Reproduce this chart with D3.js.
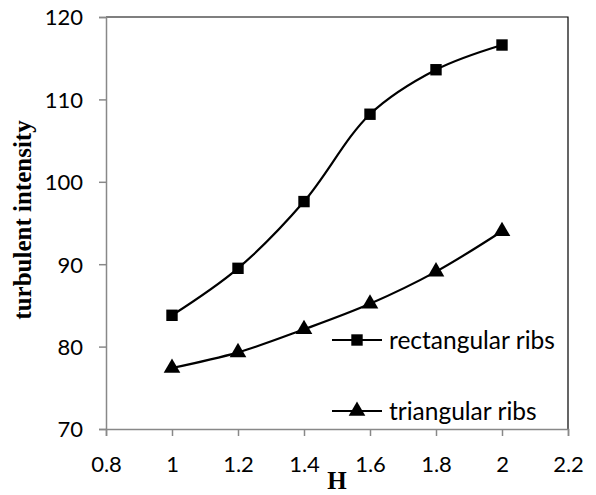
<!DOCTYPE html>
<html>
<head>
<meta charset="utf-8">
<script src="https://cdn.jsdelivr.net/npm/d3@7"></script>
<style>
  body { margin: 0; background: #fff; }
  .tick text { font-family: Lato, "Open Sans", sans-serif; font-size: 22px; fill: #000; }
</style>
</head>
<body>
<div id="chart"></div>
<script>
// values
var hValues = [1, 1.2, 1.4, 1.6, 1.8, 2];
var rectangularRibs = [83.8, 89.5, 97.6, 108.2, 113.6, 116.6];
var triangularRibs = [77.4, 79.3, 82.1, 85.2, 89.1, 94.0];
var xTicks = [0.8, 1, 1.2, 1.4, 1.6, 1.8, 2, 2.2];
var yTicks = [70, 80, 90, 100, 110, 120];

var width = 596, height = 495;
var plotLeft = 106, plotRight = 568, plotTop = 17, plotBottom = 429;

var svg = d3.select("#chart").append("svg")
    .attr("width", width)
    .attr("height", height);

var xScale = d3.scaleLinear().domain([0.8, 2.2]).range([plotLeft, plotRight]);
var yScale = d3.scaleLinear().domain([70, 120]).range([plotBottom, plotTop]);

// top and right frame
svg.append("path")
    .attr("d", "M" + plotLeft + "," + plotTop + "H" + plotRight + "V" + plotBottom)
    .attr("fill", "none")
    .attr("stroke", "#000")
    .attr("stroke-width", 1.2);

// axes
var xAxis = svg.append("g")
    .attr("transform", "translate(0," + plotBottom + ")")
    .call(d3.axisBottom(xScale).tickValues(xTicks).tickSize(7).tickPadding(20)
        .tickFormat(d3.format("")));
var yAxis = svg.append("g")
    .attr("transform", "translate(" + plotLeft + ",0)")
    .call(d3.axisLeft(yScale).tickValues(yTicks).tickSize(7).tickPadding(16));

[xAxis, yAxis].forEach(function(a) {
    a.select(".domain").attr("stroke", "#888").attr("stroke-width", 1.5);
    a.selectAll(".tick line").attr("stroke", "#888").attr("stroke-width", 1.5);
});
yAxis.selectAll(".tick text").attr("dy", "0.36em");

// series
var line = d3.line()
    .x(function(d, i) { return xScale(hValues[i]); })
    .y(function(d) { return yScale(d); })
    .curve(d3.curveCatmullRom.alpha(0.5));

svg.append("path").datum(rectangularRibs)
    .attr("d", line).attr("fill", "none").attr("stroke", "#000").attr("stroke-width", 2.2);
svg.append("path").datum(triangularRibs)
    .attr("d", line).attr("fill", "none").attr("stroke", "#000").attr("stroke-width", 2.2);

var square = d3.symbol().type(d3.symbolSquare).size(130);
var triangle = d3.symbol().type(d3.symbolTriangle).size(120);

svg.selectAll(".sq").data(rectangularRibs).enter().append("path")
    .attr("class", "sq")
    .attr("d", square)
    .attr("transform", function(d, i) { return "translate(" + xScale(hValues[i]) + "," + yScale(d) + ")"; });

svg.selectAll(".tri").data(triangularRibs).enter().append("path")
    .attr("class", "tri")
    .attr("d", triangle)
    .attr("transform", function(d, i) { return "translate(" + xScale(hValues[i]) + "," + yScale(d) + ")"; });

// legend
var legend = [
    { name: "rectangular ribs", symbol: square, y: 340 },
    { name: "triangular ribs", symbol: triangle, y: 411 }
];
legend.forEach(function(l) {
    var g = svg.append("g").attr("transform", "translate(332," + l.y + ")");
    g.append("line").attr("x1", 0).attr("x2", 50).attr("stroke", "#000").attr("stroke-width", 2.2);
    g.append("path").attr("d", l.symbol).attr("transform", "translate(25,0)");
    g.append("text").attr("x", 57).attr("dy", "0.35em")
        .style("font-family", "Lato, 'Open Sans', sans-serif").style("font-size", "24.5px")
        .text(l.name);
});

// axis titles
svg.append("text")
    .attr("transform", "translate(31,220) rotate(-90)")
    .attr("text-anchor", "middle")
    .style("font-family", "'Liberation Serif', 'DejaVu Serif', serif")
    .style("font-weight", "bold").style("font-size", "25px")
    .text("turbulent intensity");

svg.append("text")
    .attr("x", 337).attr("y", 489)
    .attr("text-anchor", "middle")
    .style("font-family", "'Liberation Serif', 'DejaVu Serif', serif")
    .style("font-weight", "bold").style("font-size", "25px")
    .text("H");
</script>
</body>
</html>
